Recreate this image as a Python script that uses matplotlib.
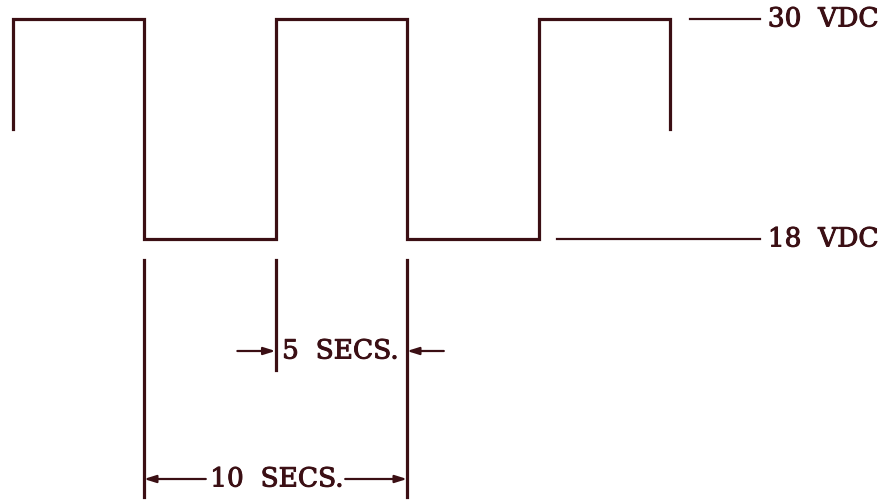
import matplotlib
matplotlib.use("Agg")
import matplotlib.pyplot as plt
import matplotlib.patheffects as pe

# Data
high_v = 30
low_v = 18
wave_t = [-5, -5, 0, 0, 5, 5, 10, 10, 15, 15, 20, 20]
wave_v = [24, 30, 30, 18, 18, 30, 30, 18, 18, 30, 30, 24]
level_labels = ["30  VDC", "18  VDC"]
dim_labels = ["5  SECS.", "10  SECS."]

C = "#3b0f14"
fig = plt.figure(figsize=(8.8, 5.01), dpi=100)
ax = fig.add_axes([0, 0, 1, 1])
ax.set_xlim(-144 / 26.3, (880 - 144) / 26.3)
ax.set_ylim(30 - 482 / 18.333, 30 + 19 / 18.333)
ax.axis("off")

ax.plot(wave_t, wave_v, color=C, lw=2.3, solid_joinstyle="miter")

fs = 19
tkw = dict(color=C, fontsize=fs, family="DejaVu Serif", va="center",
           path_effects=[pe.withStroke(linewidth=0.7, foreground=C)])

# level reference lines
ax.plot([20.76, 23.42], [high_v, high_v], color=C, lw=1.6)
ax.plot([15.7, 23.42], [low_v, low_v], color=C, lw=1.6)
ax.text(23.72, high_v, level_labels[0], ha="left", **tkw)
ax.text(23.72, low_v, level_labels[1], ha="left", **tkw)

# dimension extension lines
ax.plot([0, 0], [16.85, 3.93], color=C, lw=2.3)
ax.plot([5, 5], [16.85, 10.85], color=C, lw=2.3)
ax.plot([10, 10], [16.85, 3.93], color=C, lw=2.3)

ap = dict(arrowstyle="-|>,head_length=0.7,head_width=0.22", color=C, lw=1.6,
          shrinkA=0, shrinkB=0)
# 5 secs
y5 = 30 - (351 - 19) / 18.333
ax.annotate("", xy=(5, y5), xytext=(3.55, y5), arrowprops=ap)
ax.annotate("", xy=(10, y5), xytext=(11.4, y5), arrowprops=ap)
ax.text(5.25, y5, dim_labels[0], ha="left", **tkw)
# 10 secs
y10 = 30 - (479 - 19) / 18.333
ax.annotate("", xy=(0, y10), xytext=(2.35, y10), arrowprops=ap)
ax.annotate("", xy=(10, y10), xytext=(7.65, y10), arrowprops=ap)
ax.text(5.05, y10, dim_labels[1], ha="center", **tkw)

fig.savefig("out.png", dpi=100, facecolor="white")
